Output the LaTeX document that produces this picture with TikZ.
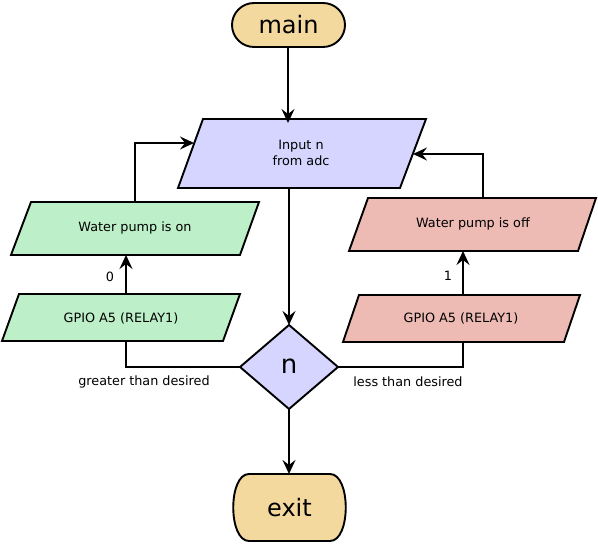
\documentclass[tikz,border=0pt]{standalone}
\usepackage{fontspec}
\setmainfont{DejaVu Sans}
\usetikzlibrary{arrows.meta}
\definecolor{termfill}{RGB}{243,217,158}
\definecolor{procfill}{RGB}{213,213,255}
\definecolor{onfill}{RGB}{189,240,201}
\definecolor{offfill}{RGB}{237,187,180}
\begin{document}
\begin{tikzpicture}[x=1pt,y=-1pt,
  shapeline/.style={draw=black, line width=1.9pt, line join=miter},
  conn/.style={draw=black, line width=1.9pt},
  arr/.style={conn, -{Stealth[length=14pt,width=13pt,inset=5pt]}},
  smalltext/.style={font=\fontsize{12.8}{16}\selectfont, align=center, inner sep=0pt},
  bigtext/.style={font=\fontsize{24}{27}\selectfont, inner sep=0pt}]
\useasboundingbox (0,0) rectangle (598,545);
% shapes
\draw[shapeline, fill=termfill, rounded corners=22pt] (232,3) rectangle (345,47);
\node[bigtext] (main) at (288.5,25) {main};
\draw[shapeline, fill=procfill] (203,119) -- (426,119) -- (400,188) -- (178,188) -- cycle;
\node[smalltext] (input) at (301,153) {Input n\\from adc};
\draw[shapeline, fill=procfill] (289,325) -- (338,367) -- (289,409) -- (240,367) -- cycle;
\node[bigtext, font=\fontsize{26}{29}\selectfont] (n) at (289,366) {n};
\draw[shapeline, fill=termfill] (249,474) -- (330,474) .. controls (351,474) and (351,541) .. (330,541) -- (249,541) .. controls (228,541) and (228,474) .. (249,474) -- cycle;
\node[bigtext] (exit) at (289.5,507.5) {exit};
\draw[shapeline, fill=onfill] (19,294) -- (240,294) -- (223,341) -- (2,341) -- cycle;
\node[smalltext] (gpioL) at (121,318) {GPIO A5 (RELAY1)};
\draw[shapeline, fill=onfill] (31,202) -- (259,202) -- (240,255) -- (11,255) -- cycle;
\node[smalltext] (pumpon) at (135,228) {Water pump is on};
\draw[shapeline, fill=offfill] (359,295) -- (580,295) -- (564,342) -- (343,342) -- cycle;
\node[smalltext] (gpioR) at (461,318) {GPIO A5 (RELAY1)};
\draw[shapeline, fill=offfill] (368,198) -- (596,198) -- (578,251) -- (349,251) -- cycle;
\node[smalltext] (pumpoff) at (473,224) {Water pump is off};
% connector end points on the shape outlines
\coordinate (mainS) at (288,47);
\coordinate (inputN) at (288,123);
\coordinate (inputS) at (289,188);
\coordinate (inputW) at (194,143);
\coordinate (inputE) at (413,154);
\coordinate (nN) at (289,325);
\coordinate (nS) at (289,409);
\coordinate (nW) at (240,367);
\coordinate (nE) at (338,367);
\coordinate (exitN) at (289,474);
\coordinate (gpioLN) at (126,294);
\coordinate (gpioLS) at (126,341);
\coordinate (pumponS) at (126,255);
\coordinate (pumponN) at (135,202);
\coordinate (gpioRN) at (463,295);
\coordinate (gpioRS) at (463,342);
\coordinate (pumpoffS) at (463,251);
\coordinate (pumpoffN) at (483,198);
% connectors
\draw[arr] (mainS) -- (inputN);
\draw[arr] (inputS) -- (nN);
\draw[arr] (nS) -- (exitN);
\draw[conn] (nW) -| (gpioLS);
\draw[conn] (nE) -| (gpioRS);
\draw[arr] (gpioLN) -- (pumponS);
\draw[arr] (gpioRN) -- (pumpoffS);
\draw[arr] (pumponN) |- (inputW);
\draw[arr] (pumpoffN) |- (inputE);
% labels
\node[smalltext] (lblgt) at (144,382) {greater than desired};
\node[smalltext] (lbllt) at (408,382) {less than desired};
\node[smalltext] (lbl0) at (110,277) {0};
\node[smalltext] (lbl1) at (448,276) {1};
\end{tikzpicture}
\end{document}
